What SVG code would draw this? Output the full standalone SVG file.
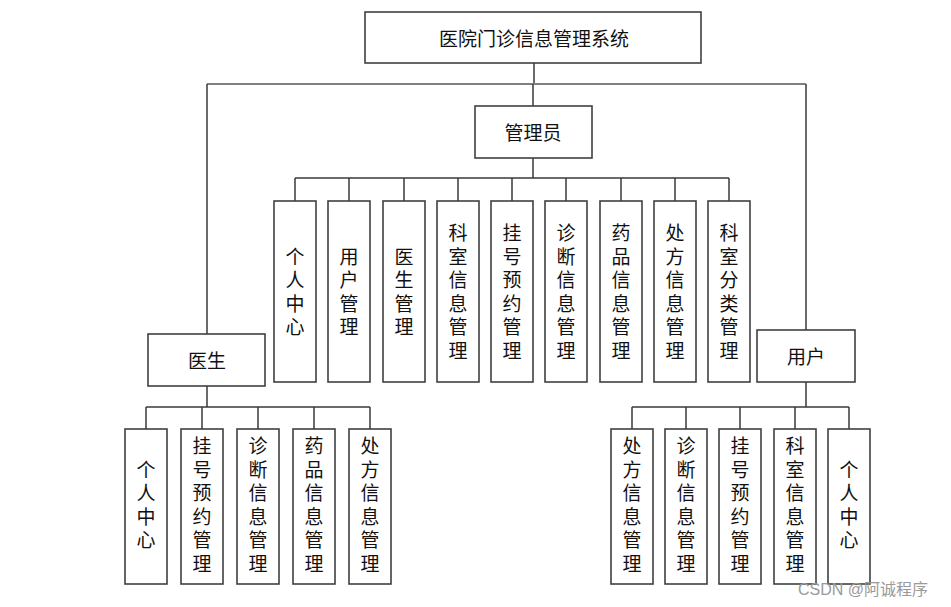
<svg xmlns="http://www.w3.org/2000/svg" width="951" height="607" viewBox="0 0 951 607">
<style>
.box{fill:#fff;stroke:#404040;stroke-width:1.6}
.t{font-family:"Noto Sans CJK SC","Noto Sans",sans-serif;font-size:19px;fill:#111;text-anchor:middle;dominant-baseline:central}
.v{font-family:"Noto Sans CJK SC","Noto Sans",sans-serif;font-size:19px;fill:#111;text-anchor:middle;writing-mode:vertical-rl;letter-spacing:4.5px}
.ln{fill:none;stroke:#3a3a3a;stroke-width:1.5}
.g{fill:none;stroke:#808080;stroke-width:2}
.wm{font-family:"Liberation Sans","Noto Sans CJK SC",sans-serif;font-size:16px;fill:#9a9a9a}
</style>
<rect width="951" height="607" fill="#fff"/>
<g id="connectors">
<path class="ln" d="M534 63V84"/>
<path class="g" d="M207 84H806"/>
<path class="ln" d="M533 84V106M533 158V178M207 84V334M806 84V330"/>
<path class="ln" d="M295 178H729M295 178V201M349 178V201M404 178V201M458 178V201M512 178V201M566 178V201M621 178V201M675 178V201M729 178V201"/>
<path class="ln" d="M207 386V407M146 407H370M146 407V429M202 407V429M258 407V429M314 407V429M370 407V429"/>
<path class="ln" d="M806 382V407M632 407H849M632 407V429M686 407V429M740 407V429M795 407V429M849 407V429"/>
</g>
<g id="root"><rect class="box" x="365" y="12" width="336" height="51"/><text class="t" x="534" y="37">医院门诊信息管理系统</text></g>
<g id="admin"><rect class="box" x="475" y="106" width="117" height="52"/><text class="t" x="533" y="131">管理员</text></g>
<g id="doctor"><rect class="box" x="148" y="334" width="117" height="52"/><text class="t" x="207" y="359">医生</text></g>
<g id="user"><rect class="box" x="757" y="330" width="98" height="52"/><text class="t" x="806" y="355">用户</text></g>

<g id="a1"><rect class="box" x="274" y="201" width="42" height="181"/><text class="v" x="295" y="294">个人中心</text></g>
<g id="a2"><rect class="box" x="328" y="201" width="42" height="181"/><text class="v" x="349" y="294">用户管理</text></g>
<g id="a3"><rect class="box" x="383" y="201" width="42" height="181"/><text class="v" x="404" y="294">医生管理</text></g>
<g id="a4"><rect class="box" x="437" y="201" width="42" height="181"/><text class="v" x="458" y="294">科室信息管理</text></g>
<g id="a5"><rect class="box" x="491" y="201" width="42" height="181"/><text class="v" x="512" y="294">挂号预约管理</text></g>
<g id="a6"><rect class="box" x="545" y="201" width="42" height="181"/><text class="v" x="566" y="294">诊断信息管理</text></g>
<g id="a7"><rect class="box" x="600" y="201" width="42" height="181"/><text class="v" x="621" y="294">药品信息管理</text></g>
<g id="a8"><rect class="box" x="654" y="201" width="42" height="181"/><text class="v" x="675" y="294">处方信息管理</text></g>
<g id="a9"><rect class="box" x="708" y="201" width="42" height="181"/><text class="v" x="729" y="294">科室分类管理</text></g>

<g id="d1"><rect class="box" x="125" y="429" width="42" height="155"/><text class="v" x="146" y="507">个人中心</text></g>
<g id="d2"><rect class="box" x="181" y="429" width="42" height="155"/><text class="v" x="202" y="507">挂号预约管理</text></g>
<g id="d3"><rect class="box" x="237" y="429" width="42" height="155"/><text class="v" x="258" y="507">诊断信息管理</text></g>
<g id="d4"><rect class="box" x="293" y="429" width="42" height="155"/><text class="v" x="314" y="507">药品信息管理</text></g>
<g id="d5"><rect class="box" x="349" y="429" width="42" height="155"/><text class="v" x="370" y="507">处方信息管理</text></g>

<g id="u1"><rect class="box" x="611" y="429" width="42" height="155"/><text class="v" x="632" y="507">处方信息管理</text></g>
<g id="u2"><rect class="box" x="665" y="429" width="42" height="155"/><text class="v" x="686" y="507">诊断信息管理</text></g>
<g id="u3"><rect class="box" x="719" y="429" width="42" height="155"/><text class="v" x="740" y="507">挂号预约管理</text></g>
<g id="u4"><rect class="box" x="774" y="429" width="42" height="155"/><text class="v" x="795" y="507">科室信息管理</text></g>
<g id="u5"><rect class="box" x="828" y="429" width="42" height="155"/><text class="v" x="849" y="507">个人中心</text></g>

<text class="wm" x="798" y="595">CSDN @阿诚程序</text>
</svg>
